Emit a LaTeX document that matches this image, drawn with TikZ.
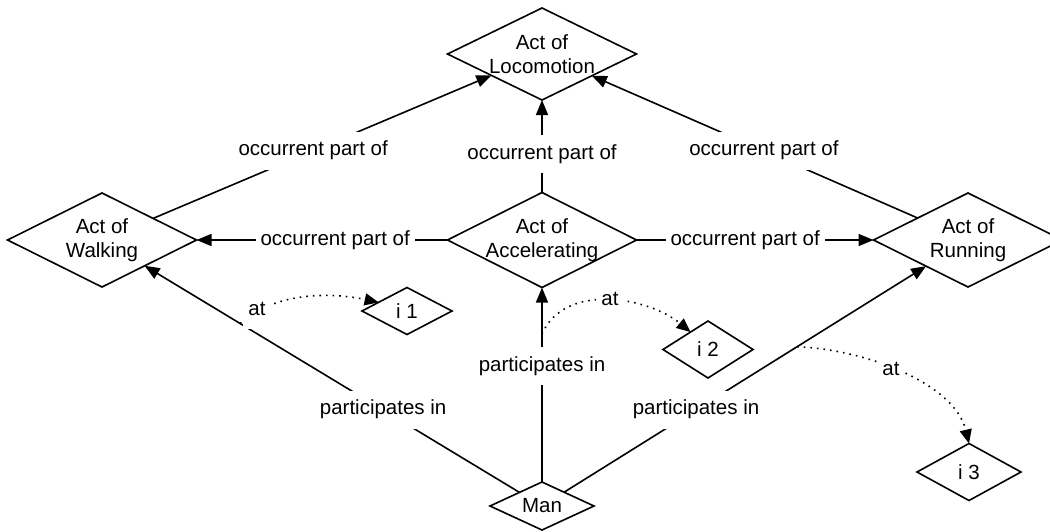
\documentclass[tikz,border=0pt]{standalone}
\usepackage{fontspec}
\setmainfont{Liberation Sans}
\usetikzlibrary{shapes.geometric,arrows.meta,calc}
\begin{document}
\begin{tikzpicture}[x=1pt,y=-1pt,
  dia/.style={draw, diamond, line width=1.6pt, inner sep=0pt, outer sep=0pt},
  txt/.style={align=center, inner sep=0pt, font=\fontsize{20.5}{24}\selectfont},
  edge/.style={line width=1.6pt, -{Triangle[length=15pt,width=12pt]}},
  linkedge/.style={line width=1.6pt, dash pattern=on 1.6pt off 5pt, -{Triangle[length=14pt,width=12pt]}},
  elabel/.style={fill=white, font=\fontsize{20.5}{24}\selectfont, text height=15pt, text depth=5pt, inner xsep=5pt, inner ysep=9pt}]
\clip (0,0) rectangle (1050,531);
\fill[white] (0,0) rectangle (1050,531);

% concept nodes
\node[dia, minimum width=189pt, minimum height=92pt] (loco) at (542,54) {};
\node[dia, minimum width=189pt, minimum height=94pt] (walk) at (102,240) {};
\node[dia, minimum width=189pt, minimum height=95pt] (acc) at (542,240) {};
\node[dia, minimum width=189pt, minimum height=94pt] (run) at (968,240) {};
\node[dia, minimum width=90pt, minimum height=47pt] (i1) at (407,311) {};
\node[dia, minimum width=90pt, minimum height=57pt] (i2) at (708,349.5) {};
\node[dia, minimum width=104pt, minimum height=57pt] (i3) at (969,472) {};
\node[dia, minimum width=104pt, minimum height=48pt] (man) at (542,506) {};

% relations
\draw[edge] (walk) -- (loco);
\draw[edge] (run) -- (loco);
\draw[edge] (acc) -- (loco);
\draw[edge] (acc) -- (walk);
\draw[edge] (acc) -- (run);
\draw[edge] (man) -- (walk);
\draw[edge] (man) -- (acc);
\draw[edge] (man) -- (run);

\node[elabel] (l1) at ($(walk)!0.48!(loco)$) {occurrent part of};
\node[elabel] (l2) at ($(run)!0.479!(loco)$) {occurrent part of};
\node[elabel] (l3) at ($(acc)!0.462!(loco)$) {occurrent part of};
\node[elabel] (l4) at ($(acc)!0.47!(walk)$) {occurrent part of};
\node[elabel] (l5) at ($(acc)!0.477!(run)$) {occurrent part of};
\node[elabel] (l6) at ($(man)!0.361!(walk)$) {participates in};
\node[elabel] (l7) at ($(man)!0.526!(acc)$) {participates in};
\node[elabel] (l8) at ($(man)!0.3615!(run)$) {participates in};

% instant links
\coordinate (s1) at ($(man)!0.686!(walk)$);
\coordinate (s2) at ($(man)!0.647!(acc)$);
\coordinate (s3) at ($(man)!0.599!(run)$);
\draw[linkedge] (s1) .. controls (275,292) and (330,292) .. (i1.163);
\draw[linkedge] (s2) .. controls (565,282) and (648,297) .. (i2.135);
\draw[linkedge] (s3) .. controls (870,350) and (955,385) .. (i3.north);
\node[elabel] (a1) at (257,310) {at};
\node[elabel] (a2) at (610,300) {at};
\node[elabel] (a3) at (891,370) {at};

% node texts
\node[txt] (loco-t) at (loco) {Act of\\Locomotion};
\node[txt] (walk-t) at (walk) {Act of\\Walking};
\node[txt] (acc-t) at (acc) {Act of\\Accelerating};
\node[txt] (run-t) at (run) {Act of\\Running};
\node[txt] (i1-t) at (i1) {i 1};
\node[txt] (i2-t) at (i2) {i 2};
\node[txt] (i3-t) at (i3) {i 3};
\node[txt] (man-t) at (man) {Man};
\end{tikzpicture}
\end{document}
